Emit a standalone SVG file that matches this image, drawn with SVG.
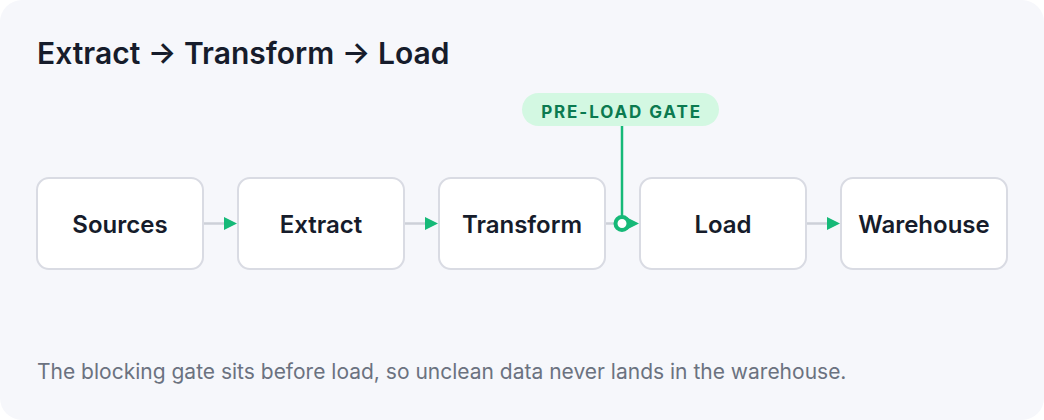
<svg xmlns="http://www.w3.org/2000/svg" width="1044" height="420" viewBox="0 0 1044 420">
<defs>
<style>
.node rect{fill:#ffffff;stroke:#d9dbe3;stroke-width:2}
.node text{font-family:Inter,"Noto Sans",sans-serif;font-size:24px;font-weight:600;fill:#161c2b;text-anchor:middle}
.edge{stroke:#cdd0d8;stroke-width:2.5;fill:none}
.head{fill:#16b978}
</style>
</defs>
<rect x="0" y="0" width="1044" height="420" fill="#ffffff"/>
<rect x="0" y="0" width="1044" height="420" rx="22" fill="#f6f7fb"/>
<text x="37" y="64" font-family="Inter,'Noto Sans',sans-serif" font-size="30" font-weight="600" fill="#161c2b">Extract → Transform → Load</text>
<g id="connectors">
<line class="edge" x1="204" y1="223.5" x2="226" y2="223.5"/>
<polygon class="head" points="224,217 237,223.5 224,230"/>
<line class="edge" x1="405" y1="223.5" x2="427" y2="223.5"/>
<polygon class="head" points="425,217 438,223.5 425,230"/>
<line class="edge" x1="606" y1="223.5" x2="616" y2="223.5"/>
<polygon class="head" points="626,217 639,223.5 626,230"/>
<line class="edge" x1="807" y1="223.5" x2="829" y2="223.5"/>
<polygon class="head" points="827,217 840,223.5 827,230"/>
<line x1="622" y1="125" x2="622" y2="218" stroke="#16b978" stroke-width="2.5"/>
<circle cx="622" cy="223.5" r="6.5" fill="#ffffff" stroke="#16b978" stroke-width="4"/>
</g>
<g id="gate">
<rect x="522" y="93" width="197" height="33" rx="16.5" fill="#d3f8e2"/>
<text x="621.5" y="118" font-family="Inter,'Noto Sans',sans-serif" font-size="17" font-weight="700" fill="#0b7a50" text-anchor="middle" letter-spacing="1.9">PRE-LOAD GATE</text>
</g>
<g id="sources" class="node"><rect x="37" y="178" width="166" height="91" rx="12"/><text x="120" y="232.5">Sources</text></g>
<g id="extract" class="node"><rect x="238" y="178" width="166" height="91" rx="12"/><text x="321" y="232.5">Extract</text></g>
<g id="transform" class="node"><rect x="439" y="178" width="166" height="91" rx="12"/><text x="522" y="232.5">Transform</text></g>
<g id="load" class="node"><rect x="640" y="178" width="166" height="91" rx="12"/><text x="723" y="232.5">Load</text></g>
<g id="warehouse" class="node"><rect x="841" y="178" width="166" height="91" rx="12"/><text x="924" y="232.5">Warehouse</text></g>
<text x="37" y="379" font-family="Inter,'Noto Sans',sans-serif" font-size="21" fill="#6b7280">The blocking gate sits before load, so unclean data never lands in the warehouse.</text>
</svg>
